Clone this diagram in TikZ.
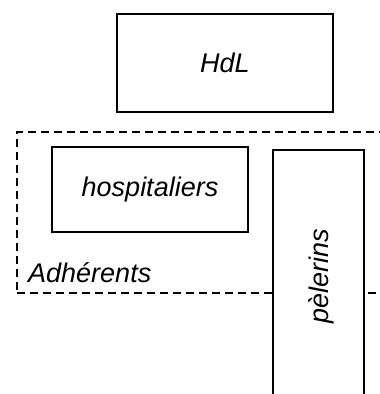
\documentclass[tikz,border=0pt]{standalone}
\usepackage{fontspec}
\setmainfont{Liberation Sans}
\begin{document}
\begin{tikzpicture}[x=1pt,y=-1pt,
  box/.style={draw, line width=1.7pt, fill=white, inner sep=0pt, font=\fontsize{27}{30}\selectfont\itshape},
  group/.style={draw, line width=1.5pt, dash pattern=on 8pt off 5pt, inner sep=0pt},
  lbl/.style={font=\fontsize{27}{30}\selectfont\itshape, inner sep=0pt}]
\useasboundingbox (0,0) rectangle (380,394);
\clip (0,0) rectangle (380,394);
\node[group, minimum width=384pt, minimum height=161pt] (adh) at (209,212.5) {};
\node[box, minimum width=216pt, minimum height=98pt] (hdl) at (225,63) {HdL};
\node[box, minimum width=196pt, minimum height=85pt] (hosp) at (150,189.5) {hospitaliers};
\node[box, minimum width=91pt, minimum height=270pt] (pel) at (318.5,285) {};
\node[lbl, rotate=90] (peltxt) at (321,276) {pèlerins};
\node[lbl, anchor=base west] (adhtxt) at (28,282) {Adhérents};
\end{tikzpicture}
\end{document}
